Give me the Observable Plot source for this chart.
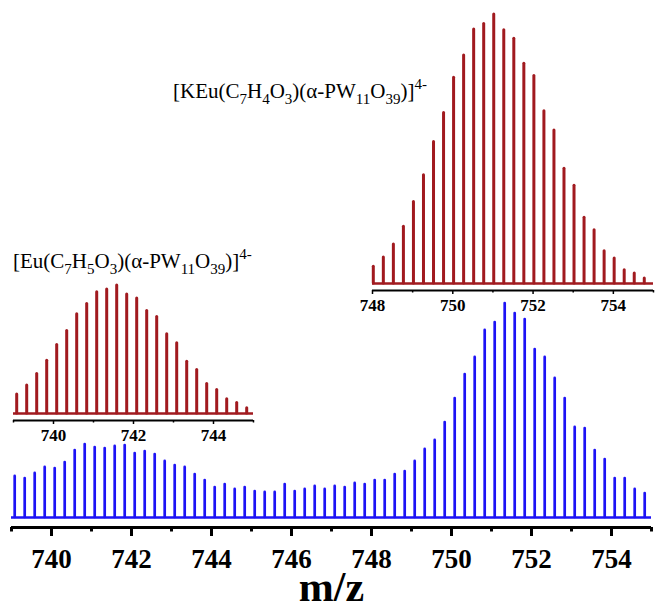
<!DOCTYPE html>
<html><head><meta charset="utf-8">
<script src="https://cdn.jsdelivr.net/npm/d3@7"></script>
<script src="https://cdn.jsdelivr.net/npm/@observablehq/plot@0.6"></script>
<style>
html,body{margin:0;padding:0;background:#fff;}
#wrap{position:relative;width:656px;height:609px;overflow:hidden;font-family:"Liberation Serif","Times New Roman",serif;}
#wrap svg{position:absolute;}
.lab{position:absolute;font-size:21px;color:#000;white-space:nowrap;line-height:1;font-family:"Liberation Serif",serif;}
.lab .sb{font-size:15px;position:relative;top:6px;}
.lab .sp{font-size:15px;position:relative;top:-9px;}
</style></head>
<body><div id="wrap"></div>
<script>
// ---- data ----
const blueMz = [
  739.08,739.33,739.58,739.83, 740.08,740.33,740.58,740.83,
  741.08,741.33,741.58,741.83, 742.08,742.33,742.58,742.83,
  743.08,743.33,743.58,743.83, 744.08,744.33,744.58,744.83,
  745.08,745.33,745.58,745.83, 746.08,746.33,746.58,746.83,
  747.08,747.33,747.58,747.83, 748.08,748.33,748.58,748.83,
  749.08,749.33,749.58,749.83, 750.08,750.33,750.58,750.83,
  751.08,751.33,751.58,751.83, 752.08,752.33,752.58,752.83,
  753.08,753.33,753.58,753.83, 754.08,754.33,754.58,754.83
];
const blueInt = [
  19.2,18.2,20.6,23.4, 22.9,25.7,31.3,34.1, 32.7,32.2,33.2,33.6, 29.9,30.8,29.4,26.2,
  24.3,23.4,20.1,17.3, 14.0,15.4,13.1,14.0, 12.1,11.7,11.7,15.4, 12.1,13.1,14.5,13.1,
  14.5,14.0,15.9,15.4, 17.3,17.3,20.1,21.5, 26.2,31.8,36.0,44.4, 55.6,66.8,74.8,87.4,
  91.1,100,95.3,92.5, 78.5,74.8,65.0,55.6, 42.1,41.6,31.3,27.1, 18.2,18.2,13.1,11.2
];
const euMz = [
  739.08,739.33,739.58,739.83, 740.08,740.33,740.58,740.83,
  741.08,741.33,741.58,741.83, 742.08,742.33,742.58,742.83,
  743.08,743.33,743.58,743.83, 744.08,744.33,744.58,744.83
];
const euInt = [
  14.8,21.8,30.8,41.2, 53.6,64.5,77.5,85.5, 94.8,96.9,100,93.0,
  89.9,80.0,75.4,61.9, 54.9,40.4,34.0,23.1, 18.4,11.1,8.3,4.1
];
const keuMz = [
  748.02,748.27,748.52,748.77, 749.02,749.27,749.52,749.77,
  750.02,750.27,750.52,750.77, 751.02,751.27,751.52,751.77,
  752.02,752.27,752.52,752.77, 753.02,753.27,753.52,753.77,
  754.02,754.27,754.52,754.77
];
const keuInt = [
  6.2,9.7,14.5,21.1, 30.3,40.2,52.6,63.4, 76.5,84.8,94.4,96.5,
  100,94.1,91.0,81.7, 77.1,64.0,56.9,42.7, 36.3,24.4,19.8,12.0,
  9.3,4.9,3.7,1.9
];
const mainMajor = [740,742,744,746,748,750,752,754];
const mainMinor = [739,741,743,745,747,749,751,753,755];
const euMajor = [740,742,744];
const euMinor = [739,741,743,745];
const keuMajor = [748,750,752,754];
const keuMinor = [749,751,753,755];
const xTitle = ["m/z"];
// ---- drawing ----
const BLUE = "#1d12f5";
const RED = "#a11a1f";
const FONT = "Liberation Serif, Times New Roman, serif";
const blue = blueMz.map((mz,k)=>({mz, v: blueInt[k]}));
const eu = euMz.map((mz,k)=>({mz, v: euInt[k]}));
const keu = keuMz.map((mz,k)=>({mz, v: keuInt[k]}));
const blank = () => "";

const wrap = document.getElementById("wrap");

const main = Plot.plot({
  width: 656, height: 609,
  marginLeft: 11, marginRight: 5, marginTop: 303, marginBottom: 82,
  x: {domain: [739, 755]},
  y: {domain: [0, 100], insetBottom: 10, axis: null},
  style: {background: "transparent", fontFamily: FONT, color: "#000"},
  marks: [
    Plot.ruleY([0], {stroke: BLUE, strokeWidth: 2.6}),
    Plot.ruleX(blue, {x: "mz", y1: 0, y2: "v", stroke: BLUE, strokeWidth: 2.7, strokeLinecap: "round"}),
    Plot.ruleY([0], {stroke: "#000", strokeWidth: 3.2, dy: 10}),
    Plot.axisX(mainMinor, {tickSize: 4.5, strokeWidth: 3, tickFormat: blank, label: null}),
    Plot.axisX(mainMajor, {tickSize: 9, strokeWidth: 3, tickPadding: 12, fontSize: 27, fontWeight: "bold", label: null, tickFormat: d => String(d)}),
    Plot.text(xTitle, {frameAnchor: "bottom", dy: 73, lineAnchor: "bottom", fontSize: 42, fontWeight: "bold", text: d => d})
  ]
});
main.style.left = "0px"; main.style.top = "0px";
wrap.appendChild(main);

function inset(data, major, minor, dom, opts) {
  return Plot.plot({
    width: opts.w, height: opts.h,
    marginLeft: opts.ml, marginRight: opts.mr, marginTop: opts.mt, marginBottom: opts.mb,
    x: {domain: dom},
    y: {domain: [0, 100], insetBottom: 7, axis: null},
    style: {background: "transparent", fontFamily: FONT, color: "#000"},
    marks: [
      Plot.ruleY([0], {stroke: RED, strokeWidth: 2.4}),
      Plot.ruleX(data, {x: "mz", y1: 0, y2: "v", stroke: RED, strokeWidth: 3, strokeLinecap: "round"}),
      Plot.ruleY([0], {stroke: "#000", strokeWidth: 1.8, dy: 7}),
      Plot.axisX(minor, {tickSize: 2.5, strokeWidth: 1.5, tickFormat: blank, label: null}),
      Plot.axisX(major, {tickSize: 4, strokeWidth: 1.5, tickPadding: 4, fontSize: 17, fontWeight: "bold", label: null, tickFormat: d => String(d)})
    ]
  });
}
const a = inset(eu, euMajor, euMinor, [739, 745], {w: 270, h: 170, ml: 13, mr: 17, mt: 5, mb: 30});
a.style.left = "0px"; a.style.top = "280px";
wrap.appendChild(a);
const b = inset(keu, keuMajor, keuMinor, [748, 755], {w: 316, h: 325, ml: 32, mr: 3, mt: 14, mb: 35});
b.style.left = "340px"; b.style.top = "0px";
wrap.appendChild(b);

function label(prefix, hsub, left, top) {
  const d = document.createElement("div");
  d.className = "lab";
  d.style.left = left + "px"; d.style.top = top + "px";
  d.innerHTML = prefix + '(C<span class="sb">7</span>H<span class="sb">' + hsub +
    '</span>O<span class="sb">3</span>)(α-PW<span class="sb">11</span>O<span class="sb">39</span>)]<span class="sp">4-</span>';
  wrap.appendChild(d);
}
label("[Eu", "5", 13, 251);
label("[KEu", "4", 173, 81);
</script>
</body></html>
